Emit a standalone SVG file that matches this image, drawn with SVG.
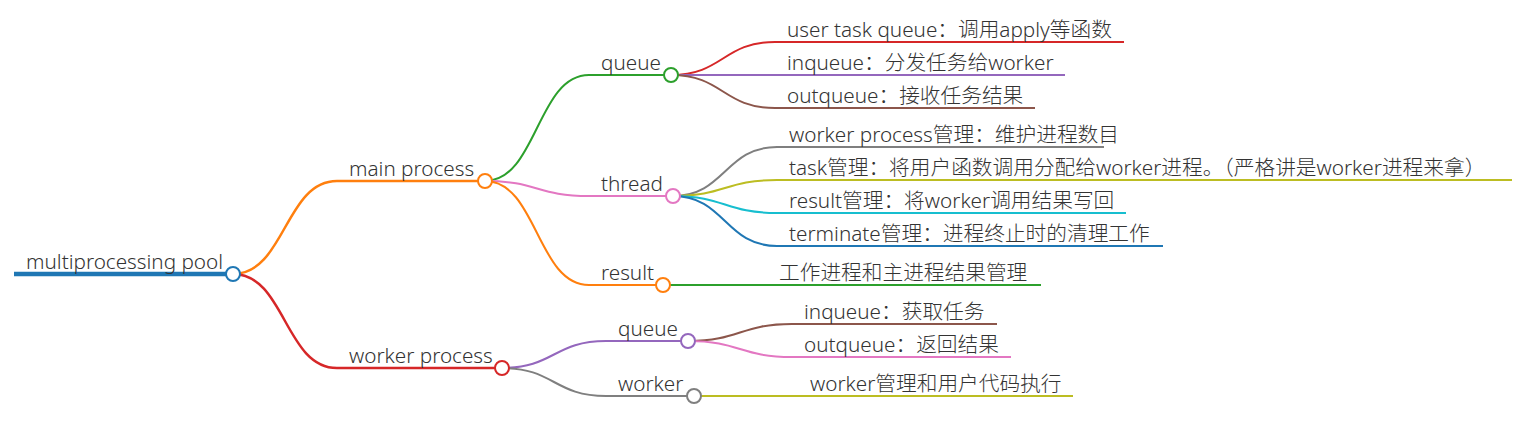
<svg xmlns="http://www.w3.org/2000/svg" width="1537" height="422" viewBox="0 0 1537 422">
<style>
text{font-family:"Noto Sans","Noto Sans CJK SC",sans-serif;font-size:20.7px;font-weight:300;fill:#333}
path,line{fill:none;stroke-linecap:butt}
.c{fill:#fff;stroke-width:2}
.l1{stroke-width:2.5}
.l2{stroke-width:2}
</style>
<rect width="1537" height="422" fill="#fff"/>
<g id="connectors">
<path class="l1" stroke="#ff7f0e" d="M233,274 C285,274 285,181 337,181"/>
<path class="l1" stroke="#d62728" d="M233,274 C285,274 285,368 337,368"/>
<path class="l2" stroke="#2ca02c" d="M485,181 C537,181 537,75 589,75"/>
<path class="l2" stroke="#e377c2" d="M485,181 C537,181 537,196 589,196"/>
<path class="l2" stroke="#ff7f0e" d="M485,181 C537,181 537,285 589,285"/>
<path class="l2" stroke="#9467bd" d="M502,368 C554,368 554,341 606,341"/>
<path class="l2" stroke="#7f7f7f" d="M502,368 C554,368 554,396 606,396"/>
<path class="l2" stroke="#d62728" d="M671,75 C723,75 723,42 775,42"/>
<path class="l2" stroke="#9467bd" d="M671,75 C723,75 723,75 775,75"/>
<path class="l2" stroke="#8c564b" d="M671,75 C723,75 723,108 775,108"/>
<path class="l2" stroke="#7f7f7f" d="M673,196 C725,196 725,147 777,147"/>
<path class="l2" stroke="#bcbd22" d="M673,196 C725,196 725,180 777,180"/>
<path class="l2" stroke="#17becf" d="M673,196 C725,196 725,213 777,213"/>
<path class="l2" stroke="#1f77b4" d="M673,196 C725,196 725,246 777,246"/>
<path class="l2" stroke="#2ca02c" d="M663,285 C715,285 715,285 767,285"/>
<path class="l2" stroke="#8c564b" d="M688,341 C740,341 740,324 792,324"/>
<path class="l2" stroke="#e377c2" d="M688,341 C740,341 740,357 792,357"/>
<path class="l2" stroke="#bcbd22" d="M694,396 C746,396 746,396 798,396"/>
</g>
<g id="root">
<line x1="14" y1="274" x2="233" y2="274" stroke="#1f77b4" stroke-width="4.5"/>
<circle class="c" cx="233" cy="274" r="7" stroke="#1f77b4"/>
<text x="26" y="268.5">multiprocessing pool</text>
</g>
<g id="main-process">
<line class="l1" x1="337" y1="181" x2="485" y2="181" stroke="#ff7f0e"/>
<circle class="c" cx="485" cy="181" r="7" stroke="#ff7f0e"/>
<text x="349" y="175.5">main process</text>
</g>
<g id="worker-process">
<line class="l1" x1="337" y1="368" x2="502" y2="368" stroke="#d62728"/>
<circle class="c" cx="502" cy="368" r="7" stroke="#d62728"/>
<text x="349" y="362.5">worker process</text>
</g>
<g id="main-queue">
<line class="l2" x1="589" y1="75" x2="671" y2="75" stroke="#2ca02c"/>
<circle class="c" cx="671" cy="75" r="7" stroke="#2ca02c"/>
<text x="601" y="69.5">queue</text>
</g>
<g id="main-thread">
<line class="l2" x1="589" y1="196" x2="673" y2="196" stroke="#e377c2"/>
<circle class="c" cx="673" cy="196" r="7" stroke="#e377c2"/>
<text x="601" y="190.5">thread</text>
</g>
<g id="main-result">
<line class="l2" x1="589" y1="285" x2="663" y2="285" stroke="#ff7f0e"/>
<circle class="c" cx="663" cy="285" r="7" stroke="#ff7f0e"/>
<text x="601" y="279.5">result</text>
</g>
<g id="worker-queue">
<line class="l2" x1="606" y1="341" x2="688" y2="341" stroke="#9467bd"/>
<circle class="c" cx="688" cy="341" r="7" stroke="#9467bd"/>
<text x="618" y="335.5">queue</text>
</g>
<g id="worker-worker">
<line class="l2" x1="606" y1="396" x2="694" y2="396" stroke="#7f7f7f"/>
<circle class="c" cx="694" cy="396" r="7" stroke="#7f7f7f"/>
<text x="618" y="390.5">worker</text>
</g>
<g id="user-task-queue">
<line class="l2" x1="775" y1="42" x2="1124" y2="42" stroke="#d62728"/>
<text x="787" y="36.5">user task queue：调用apply等函数</text>
</g>
<g id="main-inqueue">
<line class="l2" x1="775" y1="75" x2="1065" y2="75" stroke="#9467bd"/>
<text x="787" y="69.5">inqueue：分发任务给worker</text>
</g>
<g id="main-outqueue">
<line class="l2" x1="775" y1="108" x2="1035" y2="108" stroke="#8c564b"/>
<text x="787" y="102.5">outqueue：接收任务结果</text>
</g>
<g id="worker-process-mgmt">
<line class="l2" x1="777" y1="147" x2="1104" y2="147" stroke="#7f7f7f"/>
<text x="789" y="141.5">worker process管理：维护进程数目</text>
</g>
<g id="task-mgmt">
<line class="l2" x1="777" y1="180" x2="1512" y2="180" stroke="#bcbd22"/>
<text x="789" y="174.5">task管理：将用户函数调用分配给worker进程。（严格讲是worker进程来拿）</text>
</g>
<g id="result-mgmt">
<line class="l2" x1="777" y1="213" x2="1126" y2="213" stroke="#17becf"/>
<text x="789" y="207.5">result管理：将worker调用结果写回</text>
</g>
<g id="terminate-mgmt">
<line class="l2" x1="777" y1="246" x2="1163" y2="246" stroke="#1f77b4"/>
<text x="789" y="240.5">terminate管理：进程终止时的清理工作</text>
</g>
<g id="result-leaf">
<line class="l2" x1="767" y1="285" x2="1041" y2="285" stroke="#2ca02c"/>
<text x="779" y="279.5">工作进程和主进程结果管理</text>
</g>
<g id="worker-inqueue">
<line class="l2" x1="792" y1="324" x2="997" y2="324" stroke="#8c564b"/>
<text x="804" y="318.5">inqueue：获取任务</text>
</g>
<g id="worker-outqueue">
<line class="l2" x1="792" y1="357" x2="1011" y2="357" stroke="#e377c2"/>
<text x="804" y="351.5">outqueue：返回结果</text>
</g>
<g id="worker-mgmt">
<line class="l2" x1="798" y1="396" x2="1073" y2="396" stroke="#bcbd22"/>
<text x="810" y="390.5">worker管理和用户代码执行</text>
</g>
</svg>
